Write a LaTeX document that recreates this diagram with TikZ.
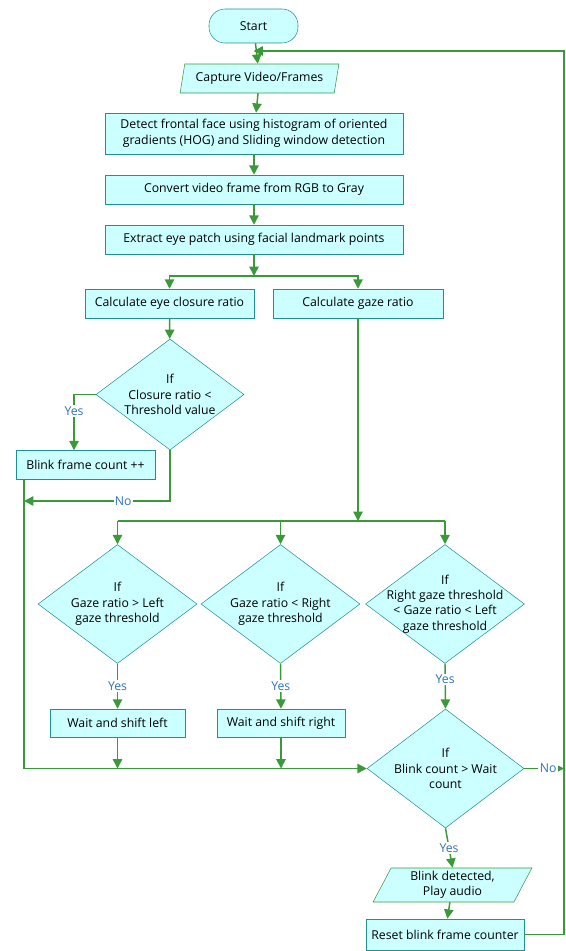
\documentclass[tikz,border=0pt]{standalone}
\usepackage{fontspec}
\setmainfont{Open Sans}
\usetikzlibrary{arrows.meta,shapes.geometric}
\definecolor{boxfill}{HTML}{CCFFFF}
\definecolor{boxline}{HTML}{23908F}
\definecolor{flowgreen}{HTML}{3A9A3A}
\definecolor{labelblue}{HTML}{2E75B6}
\begin{document}
\begin{tikzpicture}[x=0.75pt,y=-0.75pt,
	font=\fontsize{9.2}{11.6}\selectfont,
	proc/.style={draw=boxline,fill=boxfill,rectangle,inner sep=0pt,minimum height=21.75pt,align=center},
	io/.style={draw=flowgreen,fill=boxfill,trapezium,trapezium left angle=72,trapezium right angle=108,trapezium stretches=true,inner sep=0pt,align=center},
	decision/.style={draw=boxline,fill=boxfill,diamond,inner sep=0pt},
	dtext/.style={align=center,inner sep=0pt},
	flow/.style={draw=flowgreen,line width=1.1pt,-{Triangle[length=7pt,width=7pt]}},
	plain/.style={draw=flowgreen,line width=1.1pt},
	answer/.style={fill=white,text=labelblue,inner sep=1pt}]
	\useasboundingbox (0,0) rectangle (565,951);
	% boxes
	\node[draw=boxline,fill=boxfill,rounded corners=12pt,minimum width=66.75pt,minimum height=25.5pt,inner sep=0pt] (start) at (253.5,26) {Start};
	\node[io,minimum width=119.25pt,minimum height=21.75pt] (cap) at (259.5,78.5) {Capture Video/Frames};
	\node[proc,minimum width=223.5pt,minimum height=30.75pt] (det) at (254,133.5) {Detect frontal face using histogram of oriented\\gradients (HOG) and Sliding window detection};
	\node[proc,minimum width=223.5pt] (conv) at (254,189.5) {Convert video frame from RGB to Gray};
	\node[proc,minimum width=223.5pt] (ext) at (254,239.5) {Extract eye patch using facial landmark points};
	\node[proc,minimum width=126.75pt] (eye) at (169.5,303.5) {Calculate eye closure ratio};
	\node[proc,minimum width=127.5pt] (gaze) at (358,303.5) {Calculate gaze ratio};
	\node[decision,minimum width=111pt,minimum height=83.25pt] (cd) at (170,394.5) {};
	\node[dtext] (cdt) at (170,394.5) {If\\Closure ratio <\\Threshold value};
	\node[proc,minimum width=104.25pt] (blink) at (85.5,465) {Blink frame count ++};
	\node[decision,minimum width=119.25pt,minimum height=89.25pt] (gl) at (117.5,604) {};
	\node[dtext] (glt) at (117.5,604) {If\\Gaze ratio > Left\\gaze threshold};
	\node[decision,minimum width=119.25pt,minimum height=89.25pt] (gr) at (280.5,604) {};
	\node[dtext] (grt) at (280.5,604) {If\\Gaze ratio < Right\\gaze threshold};
	\node[decision,minimum width=119.25pt,minimum height=89.25pt] (gc) at (445,604) {};
	\node[dtext] (gct) at (445,604) {If\\Right gaze threshold\\< Gaze ratio < Left\\gaze threshold};
	\node[proc,minimum width=101.25pt,minimum height=21pt] (sl) at (117.5,723) {Wait and shift left};
	\node[proc,minimum width=96pt,minimum height=21pt] (sr) at (281,723) {Wait and shift right};
	\node[decision,minimum width=117.75pt,minimum height=89.25pt] (bd) at (445.5,768.5) {};
	\node[dtext] (bdt) at (445.5,768.5) {If\\Blink count > Wait\\count};
	\node[io,trapezium left angle=66,trapezium right angle=114,minimum width=119.25pt,minimum height=25.5pt] (play) at (452.5,885) {Blink detected,\\Play audio};
	\node[proc,minimum width=118.5pt,minimum height=23.25pt] (reset) at (445,934.5) {Reset blink frame counter};
	% joints
	\coordinate (fb) at (564,51);
	\coordinate (s1) at (254,276);
	\coordinate (s2) at (358,521);
	\coordinate (nojoin) at (24,501);
	\coordinate (yesjoin) at (74,450);
	% arrows
	\draw[flow] (start) -- (cap);
	\draw[flow] (cap) -- (det);
	\draw[flow] (det) -- (conv);
	\draw[flow] (conv) -- (ext);
	\draw[flow] (ext) -- (s1);
	\draw[flow] (s1) -| (eye.north);
	\draw[flow] (s1) -| (gaze.north);
	\draw[flow] (eye) -- (cd);
	\draw[flow] (cd.west) -| (yesjoin |- blink.north) node[answer,pos=0.65] (yes1) {Yes};
	\draw[flow] (cd.south) |- (nojoin) node[answer,pos=0.66] (no1) {No};
	\draw[flow] (gaze) -- (s2);
	\draw[plain] (gl.north |- s2) -- (gc.north |- s2);
	\draw[flow] (gl.north |- s2) -- (gl.north);
	\draw[flow] (gr.north |- s2) -- (gr.north);
	\draw[flow] (gc.north |- s2) -- (gc.north);
	\draw[flow] (gl.south) -- (sl.north) node[answer,midway] (yes2) {Yes};
	\draw[flow] (gr.south) -- (sr.north) node[answer,midway] (yes3) {Yes};
	\draw[flow] (gc.south) -- (bd.north) node[answer,pos=0.35] (yes4) {Yes};
	\draw[flow] (blink.south -| nojoin) |- (bd.west);
	\draw[flow] (sl.south) -- (sl.south |- bd.west);
	\draw[flow] (sr.south) -- (sr.south |- bd.west);
	\draw[flow] (bd.south) -- (play.north) node[answer,midway] (yes5) {Yes};
	\draw[flow] (play) -- (reset);
	\draw[flow] (bd.east) -- (bd.east -| fb) node[answer,pos=0.6] (no2) {No};
	\draw[flow] (reset.east) -| (fb) -- (start.south |- fb);
\end{tikzpicture}
\end{document}
